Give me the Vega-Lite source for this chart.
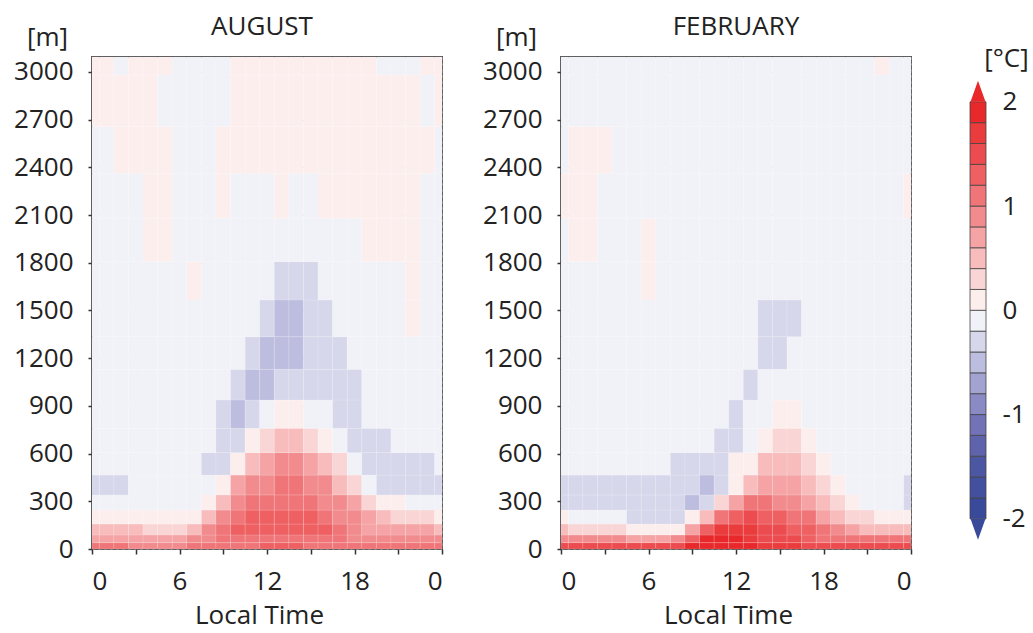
{
"$schema":"https://vega.github.io/schema/vega-lite/v6.json",
"autosize":{"type":"pad"},
"padding":{"left":12,"top":13,"right":5,"bottom":5},
"background":"white",
"config":{
 "font":"Open Sans",
 "view":{"stroke":"#555","strokeWidth":2},
 "axis":{"labelFont":"Open Sans","labelFontSize":26,"labelColor":"#222","titleFont":"Open Sans","titleFontSize":26,"titleFontWeight":"normal","titleColor":"#222","tickColor":"#333","tickWidth":1.5,"domain":false,"gridColor":"#999","gridDash":[2,4],"gridOpacity":0.6,"zindex":1},
 "title":{"font":"Open Sans","fontSize":26,"fontWeight":"normal","color":"#222"}
},
"datasets":{
"levels":[{"k":0,"lo":0,"hi":40},{"k":1,"lo":40,"hi":88},{"k":2,"lo":88,"hi":157},{"k":3,"lo":157,"hi":245},{"k":4,"lo":245,"hi":340},{"k":5,"lo":340,"hi":465},{"k":6,"lo":465,"hi":606},{"k":7,"lo":606,"hi":759},{"k":8,"lo":759,"hi":937},{"k":9,"lo":937,"hi":1130},{"k":10,"lo":1130,"hi":1335},{"k":11,"lo":1335,"hi":1566},{"k":12,"lo":1566,"hi":1807},{"k":13,"lo":1807,"hi":2080},{"k":14,"lo":2080,"hi":2363},{"k":15,"lo":2363,"hi":2656},{"k":16,"lo":2656,"hi":2981},{"k":17,"lo":2981,"hi":3094}],
"hours":[{"h":0,"t0":0,"t1":0.5},{"h":1,"t0":0.5,"t1":1.5},{"h":2,"t0":1.5,"t1":2.5},{"h":3,"t0":2.5,"t1":3.5},{"h":4,"t0":3.5,"t1":4.5},{"h":5,"t0":4.5,"t1":5.5},{"h":6,"t0":5.5,"t1":6.5},{"h":7,"t0":6.5,"t1":7.5},{"h":8,"t0":7.5,"t1":8.5},{"h":9,"t0":8.5,"t1":9.5},{"h":10,"t0":9.5,"t1":10.5},{"h":11,"t0":10.5,"t1":11.5},{"h":12,"t0":11.5,"t1":12.5},{"h":13,"t0":12.5,"t1":13.5},{"h":14,"t0":13.5,"t1":14.5},{"h":15,"t0":14.5,"t1":15.5},{"h":16,"t0":15.5,"t1":16.5},{"h":17,"t0":16.5,"t1":17.5},{"h":18,"t0":17.5,"t1":18.5},{"h":19,"t0":18.5,"t1":19.5},{"h":20,"t0":19.5,"t1":20.5},{"h":21,"t0":20.5,"t1":21.5},{"h":22,"t0":21.5,"t1":22.5},{"h":23,"t0":22.5,"t1":23.5},{"h":24,"t0":23.5,"t1":24}],
"bins":[{"lo":-2,"hi":-1.8,"v":-1.9},{"lo":-1.8,"hi":-1.6,"v":-1.7},{"lo":-1.6,"hi":-1.4,"v":-1.5},{"lo":-1.4,"hi":-1.2,"v":-1.3},{"lo":-1.2,"hi":-1,"v":-1.1},{"lo":-1,"hi":-0.8,"v":-0.9},{"lo":-0.8,"hi":-0.6,"v":-0.7},{"lo":-0.6,"hi":-0.4,"v":-0.5},{"lo":-0.4,"hi":-0.2,"v":-0.3},{"lo":-0.2,"hi":0,"v":-0.1},{"lo":0,"hi":0.2,"v":0.1},{"lo":0.2,"hi":0.4,"v":0.3},{"lo":0.4,"hi":0.6,"v":0.5},{"lo":0.6,"hi":0.8,"v":0.7},{"lo":0.8,"hi":1,"v":0.9},{"lo":1,"hi":1.2,"v":1.1},{"lo":1.2,"hi":1.4,"v":1.3},{"lo":1.4,"hi":1.6,"v":1.5},{"lo":1.6,"hi":1.8,"v":1.7},{"lo":1.8,"hi":2,"v":1.9}],
"ends":[{"y":2,"c":1.9,"end":"top"},{"y":-2,"c":-1.9,"end":"bottom"}],
"aug":[
{"k":0,"h":0,"v":1.1},{"k":0,"h":1,"v":1.1},{"k":0,"h":2,"v":1.1},{"k":0,"h":3,"v":0.9},{"k":0,"h":4,"v":0.9},{"k":0,"h":5,"v":0.9},{"k":0,"h":6,"v":0.9},{"k":0,"h":7,"v":1.1},{"k":0,"h":8,"v":1.1},{"k":0,"h":9,"v":1.1},{"k":0,"h":10,"v":1.1},{"k":0,"h":11,"v":1.1},{"k":0,"h":12,"v":1.3},{"k":0,"h":13,"v":1.3},{"k":0,"h":14,"v":1.3},{"k":0,"h":15,"v":1.1},{"k":0,"h":16,"v":1.1},{"k":0,"h":17,"v":1.1},{"k":0,"h":18,"v":1.1},{"k":0,"h":19,"v":1.1},{"k":0,"h":20,"v":1.1},{"k":0,"h":21,"v":1.1},{"k":0,"h":22,"v":1.1},{"k":0,"h":23,"v":1.1},{"k":0,"h":24,"v":1.1},
{"k":1,"h":0,"v":0.7},{"k":1,"h":1,"v":0.7},{"k":1,"h":2,"v":0.7},{"k":1,"h":3,"v":0.7},{"k":1,"h":4,"v":0.7},{"k":1,"h":5,"v":0.7},{"k":1,"h":6,"v":0.7},{"k":1,"h":7,"v":0.9},{"k":1,"h":8,"v":0.9},{"k":1,"h":9,"v":1.1},{"k":1,"h":10,"v":1.1},{"k":1,"h":11,"v":1.1},{"k":1,"h":12,"v":1.1},{"k":1,"h":13,"v":1.1},{"k":1,"h":14,"v":1.1},{"k":1,"h":15,"v":1.1},{"k":1,"h":16,"v":1.1},{"k":1,"h":17,"v":1.1},{"k":1,"h":18,"v":0.9},{"k":1,"h":19,"v":0.9},{"k":1,"h":20,"v":0.9},{"k":1,"h":21,"v":0.9},{"k":1,"h":22,"v":0.9},{"k":1,"h":23,"v":0.9},{"k":1,"h":24,"v":0.9},
{"k":2,"h":0,"v":0.5},{"k":2,"h":1,"v":0.5},{"k":2,"h":2,"v":0.5},{"k":2,"h":3,"v":0.5},{"k":2,"h":4,"v":0.3},{"k":2,"h":5,"v":0.3},{"k":2,"h":6,"v":0.3},{"k":2,"h":7,"v":0.5},{"k":2,"h":8,"v":0.9},{"k":2,"h":9,"v":1.1},{"k":2,"h":10,"v":1.3},{"k":2,"h":11,"v":1.3},{"k":2,"h":12,"v":1.3},{"k":2,"h":13,"v":1.3},{"k":2,"h":14,"v":1.3},{"k":2,"h":15,"v":1.3},{"k":2,"h":16,"v":1.3},{"k":2,"h":17,"v":1.1},{"k":2,"h":18,"v":0.9},{"k":2,"h":19,"v":0.7},{"k":2,"h":20,"v":0.7},{"k":2,"h":21,"v":0.7},{"k":2,"h":22,"v":0.7},{"k":2,"h":23,"v":0.7},{"k":2,"h":24,"v":0.5},
{"k":3,"h":0,"v":0.1},{"k":3,"h":1,"v":0.1},{"k":3,"h":2,"v":0.1},{"k":3,"h":3,"v":0.1},{"k":3,"h":4,"v":0.1},{"k":3,"h":5,"v":0.1},{"k":3,"h":6,"v":0.1},{"k":3,"h":7,"v":0.1},{"k":3,"h":8,"v":0.5},{"k":3,"h":9,"v":0.9},{"k":3,"h":10,"v":1.1},{"k":3,"h":11,"v":1.3},{"k":3,"h":12,"v":1.3},{"k":3,"h":13,"v":1.3},{"k":3,"h":14,"v":1.3},{"k":3,"h":15,"v":1.3},{"k":3,"h":16,"v":1.1},{"k":3,"h":17,"v":0.9},{"k":3,"h":18,"v":0.9},{"k":3,"h":19,"v":0.7},{"k":3,"h":20,"v":0.5},{"k":3,"h":21,"v":0.3},{"k":3,"h":22,"v":0.3},{"k":3,"h":23,"v":0.3},{"k":3,"h":24,"v":0.1},
{"k":4,"h":0,"v":-0.1},{"k":4,"h":1,"v":-0.1},{"k":4,"h":2,"v":-0.1},{"k":4,"h":3,"v":-0.1},{"k":4,"h":4,"v":-0.1},{"k":4,"h":5,"v":-0.1},{"k":4,"h":6,"v":-0.1},{"k":4,"h":7,"v":-0.1},{"k":4,"h":8,"v":0.1},{"k":4,"h":9,"v":0.5},{"k":4,"h":10,"v":0.9},{"k":4,"h":11,"v":1.1},{"k":4,"h":12,"v":1.1},{"k":4,"h":13,"v":1.1},{"k":4,"h":14,"v":1.1},{"k":4,"h":15,"v":1.1},{"k":4,"h":16,"v":0.9},{"k":4,"h":17,"v":0.9},{"k":4,"h":18,"v":0.7},{"k":4,"h":19,"v":0.3},{"k":4,"h":20,"v":0.1},{"k":4,"h":21,"v":0.1},{"k":4,"h":22,"v":-0.1},{"k":4,"h":23,"v":-0.1},{"k":4,"h":24,"v":-0.1},
{"k":5,"h":0,"v":-0.3},{"k":5,"h":1,"v":-0.3},{"k":5,"h":2,"v":-0.3},{"k":5,"h":3,"v":-0.1},{"k":5,"h":4,"v":-0.1},{"k":5,"h":5,"v":-0.1},{"k":5,"h":6,"v":-0.1},{"k":5,"h":7,"v":-0.1},{"k":5,"h":8,"v":-0.1},{"k":5,"h":9,"v":0.1},{"k":5,"h":10,"v":0.7},{"k":5,"h":11,"v":0.9},{"k":5,"h":12,"v":0.9},{"k":5,"h":13,"v":1.1},{"k":5,"h":14,"v":1.1},{"k":5,"h":15,"v":0.9},{"k":5,"h":16,"v":0.9},{"k":5,"h":17,"v":0.5},{"k":5,"h":18,"v":0.3},{"k":5,"h":19,"v":-0.1},{"k":5,"h":20,"v":-0.3},{"k":5,"h":21,"v":-0.3},{"k":5,"h":22,"v":-0.3},{"k":5,"h":23,"v":-0.3},{"k":5,"h":24,"v":-0.3},
{"k":6,"h":0,"v":-0.1},{"k":6,"h":1,"v":-0.1},{"k":6,"h":2,"v":-0.1},{"k":6,"h":3,"v":-0.1},{"k":6,"h":4,"v":-0.1},{"k":6,"h":5,"v":-0.1},{"k":6,"h":6,"v":-0.1},{"k":6,"h":7,"v":-0.1},{"k":6,"h":8,"v":-0.3},{"k":6,"h":9,"v":-0.3},{"k":6,"h":10,"v":0.1},{"k":6,"h":11,"v":0.5},{"k":6,"h":12,"v":0.7},{"k":6,"h":13,"v":0.9},{"k":6,"h":14,"v":0.9},{"k":6,"h":15,"v":0.7},{"k":6,"h":16,"v":0.5},{"k":6,"h":17,"v":0.3},{"k":6,"h":18,"v":-0.1},{"k":6,"h":19,"v":-0.3},{"k":6,"h":20,"v":-0.3},{"k":6,"h":21,"v":-0.3},{"k":6,"h":22,"v":-0.3},{"k":6,"h":23,"v":-0.3},{"k":6,"h":24,"v":-0.1},
{"k":7,"h":0,"v":-0.1},{"k":7,"h":1,"v":-0.1},{"k":7,"h":2,"v":-0.1},{"k":7,"h":3,"v":-0.1},{"k":7,"h":4,"v":-0.1},{"k":7,"h":5,"v":-0.1},{"k":7,"h":6,"v":-0.1},{"k":7,"h":7,"v":-0.1},{"k":7,"h":8,"v":-0.1},{"k":7,"h":9,"v":-0.3},{"k":7,"h":10,"v":-0.3},{"k":7,"h":11,"v":0.1},{"k":7,"h":12,"v":0.3},{"k":7,"h":13,"v":0.5},{"k":7,"h":14,"v":0.5},{"k":7,"h":15,"v":0.3},{"k":7,"h":16,"v":0.1},{"k":7,"h":17,"v":-0.1},{"k":7,"h":18,"v":-0.3},{"k":7,"h":19,"v":-0.3},{"k":7,"h":20,"v":-0.3},{"k":7,"h":21,"v":-0.1},{"k":7,"h":22,"v":-0.1},{"k":7,"h":23,"v":-0.1},{"k":7,"h":24,"v":-0.1},
{"k":8,"h":0,"v":-0.1},{"k":8,"h":1,"v":-0.1},{"k":8,"h":2,"v":-0.1},{"k":8,"h":3,"v":-0.1},{"k":8,"h":4,"v":-0.1},{"k":8,"h":5,"v":-0.1},{"k":8,"h":6,"v":-0.1},{"k":8,"h":7,"v":-0.1},{"k":8,"h":8,"v":-0.1},{"k":8,"h":9,"v":-0.3},{"k":8,"h":10,"v":-0.5},{"k":8,"h":11,"v":-0.3},{"k":8,"h":12,"v":-0.1},{"k":8,"h":13,"v":0.1},{"k":8,"h":14,"v":0.1},{"k":8,"h":15,"v":-0.1},{"k":8,"h":16,"v":-0.1},{"k":8,"h":17,"v":-0.3},{"k":8,"h":18,"v":-0.3},{"k":8,"h":19,"v":-0.1},{"k":8,"h":20,"v":-0.1},{"k":8,"h":21,"v":-0.1},{"k":8,"h":22,"v":-0.1},{"k":8,"h":23,"v":-0.1},{"k":8,"h":24,"v":-0.1},
{"k":9,"h":0,"v":-0.1},{"k":9,"h":1,"v":-0.1},{"k":9,"h":2,"v":-0.1},{"k":9,"h":3,"v":-0.1},{"k":9,"h":4,"v":-0.1},{"k":9,"h":5,"v":-0.1},{"k":9,"h":6,"v":-0.1},{"k":9,"h":7,"v":-0.1},{"k":9,"h":8,"v":-0.1},{"k":9,"h":9,"v":-0.1},{"k":9,"h":10,"v":-0.3},{"k":9,"h":11,"v":-0.5},{"k":9,"h":12,"v":-0.5},{"k":9,"h":13,"v":-0.3},{"k":9,"h":14,"v":-0.3},{"k":9,"h":15,"v":-0.3},{"k":9,"h":16,"v":-0.3},{"k":9,"h":17,"v":-0.3},{"k":9,"h":18,"v":-0.3},{"k":9,"h":19,"v":-0.1},{"k":9,"h":20,"v":-0.1},{"k":9,"h":21,"v":-0.1},{"k":9,"h":22,"v":-0.1},{"k":9,"h":23,"v":-0.1},{"k":9,"h":24,"v":-0.1},
{"k":10,"h":0,"v":-0.1},{"k":10,"h":1,"v":-0.1},{"k":10,"h":2,"v":-0.1},{"k":10,"h":3,"v":-0.1},{"k":10,"h":4,"v":-0.1},{"k":10,"h":5,"v":-0.1},{"k":10,"h":6,"v":-0.1},{"k":10,"h":7,"v":-0.1},{"k":10,"h":8,"v":-0.1},{"k":10,"h":9,"v":-0.1},{"k":10,"h":10,"v":-0.1},{"k":10,"h":11,"v":-0.3},{"k":10,"h":12,"v":-0.5},{"k":10,"h":13,"v":-0.5},{"k":10,"h":14,"v":-0.5},{"k":10,"h":15,"v":-0.3},{"k":10,"h":16,"v":-0.3},{"k":10,"h":17,"v":-0.3},{"k":10,"h":18,"v":-0.1},{"k":10,"h":19,"v":-0.1},{"k":10,"h":20,"v":-0.1},{"k":10,"h":21,"v":-0.1},{"k":10,"h":22,"v":-0.1},{"k":10,"h":23,"v":-0.1},{"k":10,"h":24,"v":-0.1},
{"k":11,"h":0,"v":-0.1},{"k":11,"h":1,"v":-0.1},{"k":11,"h":2,"v":-0.1},{"k":11,"h":3,"v":-0.1},{"k":11,"h":4,"v":-0.1},{"k":11,"h":5,"v":-0.1},{"k":11,"h":6,"v":-0.1},{"k":11,"h":7,"v":-0.1},{"k":11,"h":8,"v":-0.1},{"k":11,"h":9,"v":-0.1},{"k":11,"h":10,"v":-0.1},{"k":11,"h":11,"v":-0.1},{"k":11,"h":12,"v":-0.3},{"k":11,"h":13,"v":-0.5},{"k":11,"h":14,"v":-0.5},{"k":11,"h":15,"v":-0.3},{"k":11,"h":16,"v":-0.3},{"k":11,"h":17,"v":-0.1},{"k":11,"h":18,"v":-0.1},{"k":11,"h":19,"v":-0.1},{"k":11,"h":20,"v":-0.1},{"k":11,"h":21,"v":-0.1},{"k":11,"h":22,"v":0.1},{"k":11,"h":23,"v":-0.1},{"k":11,"h":24,"v":-0.1},
{"k":12,"h":0,"v":-0.1},{"k":12,"h":1,"v":-0.1},{"k":12,"h":2,"v":-0.1},{"k":12,"h":3,"v":-0.1},{"k":12,"h":4,"v":-0.1},{"k":12,"h":5,"v":-0.1},{"k":12,"h":6,"v":-0.1},{"k":12,"h":7,"v":0.1},{"k":12,"h":8,"v":-0.1},{"k":12,"h":9,"v":-0.1},{"k":12,"h":10,"v":-0.1},{"k":12,"h":11,"v":-0.1},{"k":12,"h":12,"v":-0.1},{"k":12,"h":13,"v":-0.3},{"k":12,"h":14,"v":-0.3},{"k":12,"h":15,"v":-0.3},{"k":12,"h":16,"v":-0.1},{"k":12,"h":17,"v":-0.1},{"k":12,"h":18,"v":-0.1},{"k":12,"h":19,"v":-0.1},{"k":12,"h":20,"v":-0.1},{"k":12,"h":21,"v":-0.1},{"k":12,"h":22,"v":0.1},{"k":12,"h":23,"v":-0.1},{"k":12,"h":24,"v":-0.1},
{"k":13,"h":0,"v":-0.1},{"k":13,"h":1,"v":-0.1},{"k":13,"h":2,"v":-0.1},{"k":13,"h":3,"v":-0.1},{"k":13,"h":4,"v":0.1},{"k":13,"h":5,"v":0.1},{"k":13,"h":6,"v":-0.1},{"k":13,"h":7,"v":-0.1},{"k":13,"h":8,"v":-0.1},{"k":13,"h":9,"v":-0.1},{"k":13,"h":10,"v":-0.1},{"k":13,"h":11,"v":-0.1},{"k":13,"h":12,"v":-0.1},{"k":13,"h":13,"v":-0.1},{"k":13,"h":14,"v":-0.1},{"k":13,"h":15,"v":-0.1},{"k":13,"h":16,"v":-0.1},{"k":13,"h":17,"v":-0.1},{"k":13,"h":18,"v":-0.1},{"k":13,"h":19,"v":0.1},{"k":13,"h":20,"v":0.1},{"k":13,"h":21,"v":0.1},{"k":13,"h":22,"v":0.1},{"k":13,"h":23,"v":-0.1},{"k":13,"h":24,"v":-0.1},
{"k":14,"h":0,"v":-0.1},{"k":14,"h":1,"v":-0.1},{"k":14,"h":2,"v":-0.1},{"k":14,"h":3,"v":-0.1},{"k":14,"h":4,"v":0.1},{"k":14,"h":5,"v":0.1},{"k":14,"h":6,"v":-0.1},{"k":14,"h":7,"v":-0.1},{"k":14,"h":8,"v":-0.1},{"k":14,"h":9,"v":0.1},{"k":14,"h":10,"v":-0.1},{"k":14,"h":11,"v":-0.1},{"k":14,"h":12,"v":-0.1},{"k":14,"h":13,"v":0.1},{"k":14,"h":14,"v":-0.1},{"k":14,"h":15,"v":-0.1},{"k":14,"h":16,"v":0.1},{"k":14,"h":17,"v":0.1},{"k":14,"h":18,"v":0.1},{"k":14,"h":19,"v":0.1},{"k":14,"h":20,"v":0.1},{"k":14,"h":21,"v":0.1},{"k":14,"h":22,"v":0.1},{"k":14,"h":23,"v":-0.1},{"k":14,"h":24,"v":-0.1},
{"k":15,"h":0,"v":-0.1},{"k":15,"h":1,"v":-0.1},{"k":15,"h":2,"v":0.1},{"k":15,"h":3,"v":0.1},{"k":15,"h":4,"v":0.1},{"k":15,"h":5,"v":0.1},{"k":15,"h":6,"v":-0.1},{"k":15,"h":7,"v":-0.1},{"k":15,"h":8,"v":-0.1},{"k":15,"h":9,"v":0.1},{"k":15,"h":10,"v":0.1},{"k":15,"h":11,"v":0.1},{"k":15,"h":12,"v":0.1},{"k":15,"h":13,"v":0.1},{"k":15,"h":14,"v":0.1},{"k":15,"h":15,"v":0.1},{"k":15,"h":16,"v":0.1},{"k":15,"h":17,"v":0.1},{"k":15,"h":18,"v":0.1},{"k":15,"h":19,"v":0.1},{"k":15,"h":20,"v":0.1},{"k":15,"h":21,"v":0.1},{"k":15,"h":22,"v":0.1},{"k":15,"h":23,"v":0.1},{"k":15,"h":24,"v":-0.1},
{"k":16,"h":0,"v":0.1},{"k":16,"h":1,"v":0.1},{"k":16,"h":2,"v":0.1},{"k":16,"h":3,"v":0.1},{"k":16,"h":4,"v":0.1},{"k":16,"h":5,"v":-0.1},{"k":16,"h":6,"v":-0.1},{"k":16,"h":7,"v":-0.1},{"k":16,"h":8,"v":-0.1},{"k":16,"h":9,"v":-0.1},{"k":16,"h":10,"v":0.1},{"k":16,"h":11,"v":0.1},{"k":16,"h":12,"v":0.1},{"k":16,"h":13,"v":0.1},{"k":16,"h":14,"v":0.1},{"k":16,"h":15,"v":0.1},{"k":16,"h":16,"v":0.1},{"k":16,"h":17,"v":0.1},{"k":16,"h":18,"v":0.1},{"k":16,"h":19,"v":0.1},{"k":16,"h":20,"v":0.1},{"k":16,"h":21,"v":0.1},{"k":16,"h":22,"v":0.1},{"k":16,"h":23,"v":-0.1},{"k":16,"h":24,"v":0.1},
{"k":17,"h":0,"v":0.1},{"k":17,"h":1,"v":0.1},{"k":17,"h":2,"v":-0.1},{"k":17,"h":3,"v":0.1},{"k":17,"h":4,"v":0.1},{"k":17,"h":5,"v":0.1},{"k":17,"h":6,"v":-0.1},{"k":17,"h":7,"v":-0.1},{"k":17,"h":8,"v":-0.1},{"k":17,"h":9,"v":-0.1},{"k":17,"h":10,"v":0.1},{"k":17,"h":11,"v":0.1},{"k":17,"h":12,"v":0.1},{"k":17,"h":13,"v":0.1},{"k":17,"h":14,"v":0.1},{"k":17,"h":15,"v":0.1},{"k":17,"h":16,"v":0.1},{"k":17,"h":17,"v":0.1},{"k":17,"h":18,"v":0.1},{"k":17,"h":19,"v":0.1},{"k":17,"h":20,"v":-0.1},{"k":17,"h":21,"v":-0.1},{"k":17,"h":22,"v":-0.1},{"k":17,"h":23,"v":0.1},{"k":17,"h":24,"v":0.1}
],
"feb":[
{"k":0,"h":0,"v":1.5},{"k":0,"h":1,"v":1.5},{"k":0,"h":2,"v":1.5},{"k":0,"h":3,"v":1.5},{"k":0,"h":4,"v":1.5},{"k":0,"h":5,"v":1.5},{"k":0,"h":6,"v":1.5},{"k":0,"h":7,"v":1.5},{"k":0,"h":8,"v":1.5},{"k":0,"h":9,"v":1.9},{"k":0,"h":10,"v":1.9},{"k":0,"h":11,"v":1.9},{"k":0,"h":12,"v":1.9},{"k":0,"h":13,"v":1.9},{"k":0,"h":14,"v":1.7},{"k":0,"h":15,"v":1.7},{"k":0,"h":16,"v":1.7},{"k":0,"h":17,"v":1.5},{"k":0,"h":18,"v":1.5},{"k":0,"h":19,"v":1.5},{"k":0,"h":20,"v":1.5},{"k":0,"h":21,"v":1.5},{"k":0,"h":22,"v":1.5},{"k":0,"h":23,"v":1.5},{"k":0,"h":24,"v":1.5},
{"k":1,"h":0,"v":0.9},{"k":1,"h":1,"v":0.9},{"k":1,"h":2,"v":0.9},{"k":1,"h":3,"v":0.9},{"k":1,"h":4,"v":0.9},{"k":1,"h":5,"v":0.7},{"k":1,"h":6,"v":0.7},{"k":1,"h":7,"v":0.7},{"k":1,"h":8,"v":0.9},{"k":1,"h":9,"v":1.3},{"k":1,"h":10,"v":1.9},{"k":1,"h":11,"v":1.9},{"k":1,"h":12,"v":1.9},{"k":1,"h":13,"v":1.7},{"k":1,"h":14,"v":1.5},{"k":1,"h":15,"v":1.5},{"k":1,"h":16,"v":1.5},{"k":1,"h":17,"v":1.3},{"k":1,"h":18,"v":1.1},{"k":1,"h":19,"v":1.1},{"k":1,"h":20,"v":1.1},{"k":1,"h":21,"v":1.1},{"k":1,"h":22,"v":1.1},{"k":1,"h":23,"v":1.1},{"k":1,"h":24,"v":1.1},
{"k":2,"h":0,"v":0.5},{"k":2,"h":1,"v":0.3},{"k":2,"h":2,"v":0.3},{"k":2,"h":3,"v":0.3},{"k":2,"h":4,"v":0.3},{"k":2,"h":5,"v":0.1},{"k":2,"h":6,"v":0.1},{"k":2,"h":7,"v":0.1},{"k":2,"h":8,"v":0.1},{"k":2,"h":9,"v":0.7},{"k":2,"h":10,"v":1.3},{"k":2,"h":11,"v":1.7},{"k":2,"h":12,"v":1.7},{"k":2,"h":13,"v":1.7},{"k":2,"h":14,"v":1.5},{"k":2,"h":15,"v":1.5},{"k":2,"h":16,"v":1.3},{"k":2,"h":17,"v":1.3},{"k":2,"h":18,"v":1.1},{"k":2,"h":19,"v":0.9},{"k":2,"h":20,"v":0.7},{"k":2,"h":21,"v":0.5},{"k":2,"h":22,"v":0.5},{"k":2,"h":23,"v":0.5},{"k":2,"h":24,"v":0.5},
{"k":3,"h":0,"v":0.1},{"k":3,"h":1,"v":-0.1},{"k":3,"h":2,"v":-0.1},{"k":3,"h":3,"v":-0.1},{"k":3,"h":4,"v":-0.1},{"k":3,"h":5,"v":-0.3},{"k":3,"h":6,"v":-0.3},{"k":3,"h":7,"v":-0.3},{"k":3,"h":8,"v":-0.3},{"k":3,"h":9,"v":0.1},{"k":3,"h":10,"v":0.5},{"k":3,"h":11,"v":1.1},{"k":3,"h":12,"v":1.3},{"k":3,"h":13,"v":1.5},{"k":3,"h":14,"v":1.3},{"k":3,"h":15,"v":1.3},{"k":3,"h":16,"v":1.1},{"k":3,"h":17,"v":1.1},{"k":3,"h":18,"v":0.7},{"k":3,"h":19,"v":0.5},{"k":3,"h":20,"v":0.3},{"k":3,"h":21,"v":0.3},{"k":3,"h":22,"v":0.1},{"k":3,"h":23,"v":0.1},{"k":3,"h":24,"v":0.1},
{"k":4,"h":0,"v":-0.3},{"k":4,"h":1,"v":-0.3},{"k":4,"h":2,"v":-0.3},{"k":4,"h":3,"v":-0.3},{"k":4,"h":4,"v":-0.3},{"k":4,"h":5,"v":-0.3},{"k":4,"h":6,"v":-0.3},{"k":4,"h":7,"v":-0.3},{"k":4,"h":8,"v":-0.3},{"k":4,"h":9,"v":-0.5},{"k":4,"h":10,"v":-0.3},{"k":4,"h":11,"v":0.3},{"k":4,"h":12,"v":0.7},{"k":4,"h":13,"v":1.1},{"k":4,"h":14,"v":1.1},{"k":4,"h":15,"v":0.9},{"k":4,"h":16,"v":0.9},{"k":4,"h":17,"v":0.7},{"k":4,"h":18,"v":0.5},{"k":4,"h":19,"v":0.3},{"k":4,"h":20,"v":0.1},{"k":4,"h":21,"v":-0.1},{"k":4,"h":22,"v":-0.1},{"k":4,"h":23,"v":-0.1},{"k":4,"h":24,"v":-0.3},
{"k":5,"h":0,"v":-0.3},{"k":5,"h":1,"v":-0.3},{"k":5,"h":2,"v":-0.3},{"k":5,"h":3,"v":-0.3},{"k":5,"h":4,"v":-0.3},{"k":5,"h":5,"v":-0.3},{"k":5,"h":6,"v":-0.3},{"k":5,"h":7,"v":-0.3},{"k":5,"h":8,"v":-0.3},{"k":5,"h":9,"v":-0.3},{"k":5,"h":10,"v":-0.5},{"k":5,"h":11,"v":-0.3},{"k":5,"h":12,"v":0.1},{"k":5,"h":13,"v":0.5},{"k":5,"h":14,"v":0.7},{"k":5,"h":15,"v":0.7},{"k":5,"h":16,"v":0.7},{"k":5,"h":17,"v":0.5},{"k":5,"h":18,"v":0.3},{"k":5,"h":19,"v":0.1},{"k":5,"h":20,"v":-0.1},{"k":5,"h":21,"v":-0.1},{"k":5,"h":22,"v":-0.1},{"k":5,"h":23,"v":-0.1},{"k":5,"h":24,"v":-0.3},
{"k":6,"h":0,"v":-0.1},{"k":6,"h":1,"v":-0.1},{"k":6,"h":2,"v":-0.1},{"k":6,"h":3,"v":-0.1},{"k":6,"h":4,"v":-0.1},{"k":6,"h":5,"v":-0.1},{"k":6,"h":6,"v":-0.1},{"k":6,"h":7,"v":-0.1},{"k":6,"h":8,"v":-0.3},{"k":6,"h":9,"v":-0.3},{"k":6,"h":10,"v":-0.3},{"k":6,"h":11,"v":-0.3},{"k":6,"h":12,"v":0.1},{"k":6,"h":13,"v":0.1},{"k":6,"h":14,"v":0.5},{"k":6,"h":15,"v":0.5},{"k":6,"h":16,"v":0.5},{"k":6,"h":17,"v":0.3},{"k":6,"h":18,"v":0.1},{"k":6,"h":19,"v":-0.1},{"k":6,"h":20,"v":-0.1},{"k":6,"h":21,"v":-0.1},{"k":6,"h":22,"v":-0.1},{"k":6,"h":23,"v":-0.1},{"k":6,"h":24,"v":-0.1},
{"k":7,"h":0,"v":-0.1},{"k":7,"h":1,"v":-0.1},{"k":7,"h":2,"v":-0.1},{"k":7,"h":3,"v":-0.1},{"k":7,"h":4,"v":-0.1},{"k":7,"h":5,"v":-0.1},{"k":7,"h":6,"v":-0.1},{"k":7,"h":7,"v":-0.1},{"k":7,"h":8,"v":-0.1},{"k":7,"h":9,"v":-0.1},{"k":7,"h":10,"v":-0.1},{"k":7,"h":11,"v":-0.3},{"k":7,"h":12,"v":-0.3},{"k":7,"h":13,"v":-0.1},{"k":7,"h":14,"v":0.1},{"k":7,"h":15,"v":0.3},{"k":7,"h":16,"v":0.3},{"k":7,"h":17,"v":0.1},{"k":7,"h":18,"v":-0.1},{"k":7,"h":19,"v":-0.1},{"k":7,"h":20,"v":-0.1},{"k":7,"h":21,"v":-0.1},{"k":7,"h":22,"v":-0.1},{"k":7,"h":23,"v":-0.1},{"k":7,"h":24,"v":-0.1},
{"k":8,"h":0,"v":-0.1},{"k":8,"h":1,"v":-0.1},{"k":8,"h":2,"v":-0.1},{"k":8,"h":3,"v":-0.1},{"k":8,"h":4,"v":-0.1},{"k":8,"h":5,"v":-0.1},{"k":8,"h":6,"v":-0.1},{"k":8,"h":7,"v":-0.1},{"k":8,"h":8,"v":-0.1},{"k":8,"h":9,"v":-0.1},{"k":8,"h":10,"v":-0.1},{"k":8,"h":11,"v":-0.1},{"k":8,"h":12,"v":-0.3},{"k":8,"h":13,"v":-0.1},{"k":8,"h":14,"v":-0.1},{"k":8,"h":15,"v":0.1},{"k":8,"h":16,"v":0.1},{"k":8,"h":17,"v":-0.1},{"k":8,"h":18,"v":-0.1},{"k":8,"h":19,"v":-0.1},{"k":8,"h":20,"v":-0.1},{"k":8,"h":21,"v":-0.1},{"k":8,"h":22,"v":-0.1},{"k":8,"h":23,"v":-0.1},{"k":8,"h":24,"v":-0.1},
{"k":9,"h":0,"v":-0.1},{"k":9,"h":1,"v":-0.1},{"k":9,"h":2,"v":-0.1},{"k":9,"h":3,"v":-0.1},{"k":9,"h":4,"v":-0.1},{"k":9,"h":5,"v":-0.1},{"k":9,"h":6,"v":-0.1},{"k":9,"h":7,"v":-0.1},{"k":9,"h":8,"v":-0.1},{"k":9,"h":9,"v":-0.1},{"k":9,"h":10,"v":-0.1},{"k":9,"h":11,"v":-0.1},{"k":9,"h":12,"v":-0.1},{"k":9,"h":13,"v":-0.3},{"k":9,"h":14,"v":-0.1},{"k":9,"h":15,"v":-0.1},{"k":9,"h":16,"v":-0.1},{"k":9,"h":17,"v":-0.1},{"k":9,"h":18,"v":-0.1},{"k":9,"h":19,"v":-0.1},{"k":9,"h":20,"v":-0.1},{"k":9,"h":21,"v":-0.1},{"k":9,"h":22,"v":-0.1},{"k":9,"h":23,"v":-0.1},{"k":9,"h":24,"v":-0.1},
{"k":10,"h":0,"v":-0.1},{"k":10,"h":1,"v":-0.1},{"k":10,"h":2,"v":-0.1},{"k":10,"h":3,"v":-0.1},{"k":10,"h":4,"v":-0.1},{"k":10,"h":5,"v":-0.1},{"k":10,"h":6,"v":-0.1},{"k":10,"h":7,"v":-0.1},{"k":10,"h":8,"v":-0.1},{"k":10,"h":9,"v":-0.1},{"k":10,"h":10,"v":-0.1},{"k":10,"h":11,"v":-0.1},{"k":10,"h":12,"v":-0.1},{"k":10,"h":13,"v":-0.1},{"k":10,"h":14,"v":-0.3},{"k":10,"h":15,"v":-0.3},{"k":10,"h":16,"v":-0.1},{"k":10,"h":17,"v":-0.1},{"k":10,"h":18,"v":-0.1},{"k":10,"h":19,"v":-0.1},{"k":10,"h":20,"v":-0.1},{"k":10,"h":21,"v":-0.1},{"k":10,"h":22,"v":-0.1},{"k":10,"h":23,"v":-0.1},{"k":10,"h":24,"v":-0.1},
{"k":11,"h":0,"v":-0.1},{"k":11,"h":1,"v":-0.1},{"k":11,"h":2,"v":-0.1},{"k":11,"h":3,"v":-0.1},{"k":11,"h":4,"v":-0.1},{"k":11,"h":5,"v":-0.1},{"k":11,"h":6,"v":-0.1},{"k":11,"h":7,"v":-0.1},{"k":11,"h":8,"v":-0.1},{"k":11,"h":9,"v":-0.1},{"k":11,"h":10,"v":-0.1},{"k":11,"h":11,"v":-0.1},{"k":11,"h":12,"v":-0.1},{"k":11,"h":13,"v":-0.1},{"k":11,"h":14,"v":-0.3},{"k":11,"h":15,"v":-0.3},{"k":11,"h":16,"v":-0.3},{"k":11,"h":17,"v":-0.1},{"k":11,"h":18,"v":-0.1},{"k":11,"h":19,"v":-0.1},{"k":11,"h":20,"v":-0.1},{"k":11,"h":21,"v":-0.1},{"k":11,"h":22,"v":-0.1},{"k":11,"h":23,"v":-0.1},{"k":11,"h":24,"v":-0.1},
{"k":12,"h":0,"v":-0.1},{"k":12,"h":1,"v":-0.1},{"k":12,"h":2,"v":-0.1},{"k":12,"h":3,"v":-0.1},{"k":12,"h":4,"v":-0.1},{"k":12,"h":5,"v":-0.1},{"k":12,"h":6,"v":0.1},{"k":12,"h":7,"v":-0.1},{"k":12,"h":8,"v":-0.1},{"k":12,"h":9,"v":-0.1},{"k":12,"h":10,"v":-0.1},{"k":12,"h":11,"v":-0.1},{"k":12,"h":12,"v":-0.1},{"k":12,"h":13,"v":-0.1},{"k":12,"h":14,"v":-0.1},{"k":12,"h":15,"v":-0.1},{"k":12,"h":16,"v":-0.1},{"k":12,"h":17,"v":-0.1},{"k":12,"h":18,"v":-0.1},{"k":12,"h":19,"v":-0.1},{"k":12,"h":20,"v":-0.1},{"k":12,"h":21,"v":-0.1},{"k":12,"h":22,"v":-0.1},{"k":12,"h":23,"v":-0.1},{"k":12,"h":24,"v":-0.1},
{"k":13,"h":0,"v":-0.1},{"k":13,"h":1,"v":0.1},{"k":13,"h":2,"v":0.1},{"k":13,"h":3,"v":-0.1},{"k":13,"h":4,"v":-0.1},{"k":13,"h":5,"v":-0.1},{"k":13,"h":6,"v":0.1},{"k":13,"h":7,"v":-0.1},{"k":13,"h":8,"v":-0.1},{"k":13,"h":9,"v":-0.1},{"k":13,"h":10,"v":-0.1},{"k":13,"h":11,"v":-0.1},{"k":13,"h":12,"v":-0.1},{"k":13,"h":13,"v":-0.1},{"k":13,"h":14,"v":-0.1},{"k":13,"h":15,"v":-0.1},{"k":13,"h":16,"v":-0.1},{"k":13,"h":17,"v":-0.1},{"k":13,"h":18,"v":-0.1},{"k":13,"h":19,"v":-0.1},{"k":13,"h":20,"v":-0.1},{"k":13,"h":21,"v":-0.1},{"k":13,"h":22,"v":-0.1},{"k":13,"h":23,"v":-0.1},{"k":13,"h":24,"v":-0.1},
{"k":14,"h":0,"v":0.1},{"k":14,"h":1,"v":0.1},{"k":14,"h":2,"v":0.1},{"k":14,"h":3,"v":-0.1},{"k":14,"h":4,"v":-0.1},{"k":14,"h":5,"v":-0.1},{"k":14,"h":6,"v":-0.1},{"k":14,"h":7,"v":-0.1},{"k":14,"h":8,"v":-0.1},{"k":14,"h":9,"v":-0.1},{"k":14,"h":10,"v":-0.1},{"k":14,"h":11,"v":-0.1},{"k":14,"h":12,"v":-0.1},{"k":14,"h":13,"v":-0.1},{"k":14,"h":14,"v":-0.1},{"k":14,"h":15,"v":-0.1},{"k":14,"h":16,"v":-0.1},{"k":14,"h":17,"v":-0.1},{"k":14,"h":18,"v":-0.1},{"k":14,"h":19,"v":-0.1},{"k":14,"h":20,"v":-0.1},{"k":14,"h":21,"v":-0.1},{"k":14,"h":22,"v":-0.1},{"k":14,"h":23,"v":-0.1},{"k":14,"h":24,"v":0.1},
{"k":15,"h":0,"v":-0.1},{"k":15,"h":1,"v":0.1},{"k":15,"h":2,"v":0.1},{"k":15,"h":3,"v":0.1},{"k":15,"h":4,"v":-0.1},{"k":15,"h":5,"v":-0.1},{"k":15,"h":6,"v":-0.1},{"k":15,"h":7,"v":-0.1},{"k":15,"h":8,"v":-0.1},{"k":15,"h":9,"v":-0.1},{"k":15,"h":10,"v":-0.1},{"k":15,"h":11,"v":-0.1},{"k":15,"h":12,"v":-0.1},{"k":15,"h":13,"v":-0.1},{"k":15,"h":14,"v":-0.1},{"k":15,"h":15,"v":-0.1},{"k":15,"h":16,"v":-0.1},{"k":15,"h":17,"v":-0.1},{"k":15,"h":18,"v":-0.1},{"k":15,"h":19,"v":-0.1},{"k":15,"h":20,"v":-0.1},{"k":15,"h":21,"v":-0.1},{"k":15,"h":22,"v":-0.1},{"k":15,"h":23,"v":-0.1},{"k":15,"h":24,"v":-0.1},
{"k":16,"h":0,"v":-0.1},{"k":16,"h":1,"v":-0.1},{"k":16,"h":2,"v":-0.1},{"k":16,"h":3,"v":-0.1},{"k":16,"h":4,"v":-0.1},{"k":16,"h":5,"v":-0.1},{"k":16,"h":6,"v":-0.1},{"k":16,"h":7,"v":-0.1},{"k":16,"h":8,"v":-0.1},{"k":16,"h":9,"v":-0.1},{"k":16,"h":10,"v":-0.1},{"k":16,"h":11,"v":-0.1},{"k":16,"h":12,"v":-0.1},{"k":16,"h":13,"v":-0.1},{"k":16,"h":14,"v":-0.1},{"k":16,"h":15,"v":-0.1},{"k":16,"h":16,"v":-0.1},{"k":16,"h":17,"v":-0.1},{"k":16,"h":18,"v":-0.1},{"k":16,"h":19,"v":-0.1},{"k":16,"h":20,"v":-0.1},{"k":16,"h":21,"v":-0.1},{"k":16,"h":22,"v":-0.1},{"k":16,"h":23,"v":-0.1},{"k":16,"h":24,"v":-0.1},
{"k":17,"h":0,"v":-0.1},{"k":17,"h":1,"v":-0.1},{"k":17,"h":2,"v":-0.1},{"k":17,"h":3,"v":-0.1},{"k":17,"h":4,"v":-0.1},{"k":17,"h":5,"v":-0.1},{"k":17,"h":6,"v":-0.1},{"k":17,"h":7,"v":-0.1},{"k":17,"h":8,"v":-0.1},{"k":17,"h":9,"v":-0.1},{"k":17,"h":10,"v":-0.1},{"k":17,"h":11,"v":-0.1},{"k":17,"h":12,"v":-0.1},{"k":17,"h":13,"v":-0.1},{"k":17,"h":14,"v":-0.1},{"k":17,"h":15,"v":-0.1},{"k":17,"h":16,"v":-0.1},{"k":17,"h":17,"v":-0.1},{"k":17,"h":18,"v":-0.1},{"k":17,"h":19,"v":-0.1},{"k":17,"h":20,"v":-0.1},{"k":17,"h":21,"v":-0.1},{"k":17,"h":22,"v":0.1},{"k":17,"h":23,"v":-0.1},{"k":17,"h":24,"v":-0.1}
]
},
"spacing":56,
"hconcat":[
{
 "bounds":"flush",
 "spacing":119,
 "hconcat":[
  {
   "width":350,"height":492,
   "title":{"text":"AUGUST","frame":"group","baseline":"alphabetic","offset":-37,"dx":-5},
   "data":{"name":"aug"},
   "transform":[
    {"lookup":"k","from":{"data":{"name":"levels"},"key":"k","fields":["lo","hi"]}},
    {"lookup":"h","from":{"data":{"name":"hours"},"key":"h","fields":["t0","t1"]}}
   ],
   "mark":{"type":"rect","stroke":"#ffffff","strokeWidth":0.4,"strokeOpacity":0.35},
   "encoding":{
    "x":{"field":"t0","type":"quantitative","scale":{"domain":[0,24],"nice":false,"zero":false},
     "axis":{"values":[0,3,6,9,12,15,18,21,24],"labelExpr":"datum.value % 6 == 0 ? (datum.value == 24 ? '0' : datum.label) : ''","tickSize":5,"labelPadding":14,"grid":true,"title":"Local Time","titleX":167,"titleY":74,"titleAlign":"center","titleBaseline":"alphabetic"}},
    "x2":{"field":"t1"},
    "y":{"field":"lo","type":"quantitative","scale":{"domain":[0,3094],"nice":false,"zero":false},
     "axis":{"values":[0,300,600,900,1200,1500,1800,2100,2400,2700,3000],"format":"d","tickSize":4,"labelPadding":15,"grid":true,"title":"[m]","titleAngle":0,"titleX":-45,"titleY":-12,"titleAlign":"center","titleBaseline":"alphabetic"}},
    "y2":{"field":"hi"},
    "color":{"field":"v","type":"quantitative","legend":null,
     "scale":{"type":"threshold","domain":[-1.8,-1.6,-1.4,-1.2,-1,-0.8,-0.6,-0.4,-0.2,0,0.2,0.4,0.6,0.8,1,1.2,1.4,1.6,1.8],
      "range":["#3a4a9a","#42509f","#4c57a4","#5e63ab","#7272b6","#8a8ac4","#a3a3d2","#bdbddf","#d7d7ec","#f1f1f8","#fdeeee","#fad5d5","#f8bcbd","#f5a3a4","#f28b8d","#f07578","#ee6062","#ec4c4f","#ea3b3d","#e8282b"]}}
   }
  },
  {
   "width":350,"height":492,
   "title":{"text":"FEBRUARY","frame":"group","baseline":"alphabetic","offset":-37},
   "data":{"name":"feb"},
   "transform":[
    {"lookup":"k","from":{"data":{"name":"levels"},"key":"k","fields":["lo","hi"]}},
    {"lookup":"h","from":{"data":{"name":"hours"},"key":"h","fields":["t0","t1"]}}
   ],
   "mark":{"type":"rect","stroke":"#ffffff","strokeWidth":0.4,"strokeOpacity":0.35},
   "encoding":{
    "x":{"field":"t0","type":"quantitative","scale":{"domain":[0,24],"nice":false,"zero":false},
     "axis":{"values":[0,3,6,9,12,15,18,21,24],"labelExpr":"datum.value % 6 == 0 ? (datum.value == 24 ? '0' : datum.label) : ''","tickSize":5,"labelPadding":14,"grid":true,"title":"Local Time","titleX":167,"titleY":74,"titleAlign":"center","titleBaseline":"alphabetic"}},
    "x2":{"field":"t1"},
    "y":{"field":"lo","type":"quantitative","scale":{"domain":[0,3094],"nice":false,"zero":false},
     "axis":{"values":[0,300,600,900,1200,1500,1800,2100,2400,2700,3000],"format":"d","tickSize":4,"labelPadding":15,"grid":true,"title":"[m]","titleAngle":0,"titleX":-45,"titleY":-12,"titleAlign":"center","titleBaseline":"alphabetic"}},
    "y2":{"field":"hi"},
    "color":{"field":"v","type":"quantitative","legend":null,
     "scale":{"type":"threshold","domain":[-1.8,-1.6,-1.4,-1.2,-1,-0.8,-0.6,-0.4,-0.2,0,0.2,0.4,0.6,0.8,1,1.2,1.4,1.6,1.8],
      "range":["#3a4a9a","#42509f","#4c57a4","#5e63ab","#7272b6","#8a8ac4","#a3a3d2","#bdbddf","#d7d7ec","#f1f1f8","#fdeeee","#fad5d5","#f8bcbd","#f5a3a4","#f28b8d","#f07578","#ee6062","#ec4c4f","#ea3b3d","#e8282b"]}}
   }
  }
 ]
},
{
 "width":16,"height":492,
 "view":{"stroke":null},
 "layer":[
  {
   "data":{"name":"bins"},
   "mark":{"type":"rect","stroke":"#444","strokeWidth":0.8},
   "encoding":{
    "y":{"field":"lo","type":"quantitative","scale":{"domain":[-2.29,2.43],"nice":false,"zero":false},
     "axis":{"orient":"right","values":[-2,-1,0,1,2],"labelExpr":"'' + datum.value","ticks":false,"grid":false,"domain":false,"labelAlign":"left","labelPadding":16,"title":"[°C]","titleAngle":0,"titleX":20,"titleY":9,"titleAlign":"center","titleBaseline":"alphabetic"}},
    "y2":{"field":"hi"},
    "color":{"field":"v","type":"quantitative","legend":null,
     "scale":{"type":"threshold","domain":[-1.8,-1.6,-1.4,-1.2,-1,-0.8,-0.6,-0.4,-0.2,0,0.2,0.4,0.6,0.8,1,1.2,1.4,1.6,1.8],
      "range":["#3a4a9a","#42509f","#4c57a4","#5e63ab","#7272b6","#8a8ac4","#a3a3d2","#bdbddf","#d7d7ec","#f1f1f8","#fdeeee","#fad5d5","#f8bcbd","#f5a3a4","#f28b8d","#f07578","#ee6062","#ec4c4f","#ea3b3d","#e8282b"]}}
   }
  },
  {
   "data":{"name":"ends"},
   "transform":[{"filter":"datum.end == 'top'"}],
   "mark":{"type":"point","filled":true,"opacity":1,"shape":"M-1,0L0,-2.8L1,0Z","size":225},
   "encoding":{"y":{"field":"y","type":"quantitative"},
    "color":{"field":"c","type":"quantitative","legend":null,
     "scale":{"type":"threshold","domain":[-1.8,-1.6,-1.4,-1.2,-1,-0.8,-0.6,-0.4,-0.2,0,0.2,0.4,0.6,0.8,1,1.2,1.4,1.6,1.8],
      "range":["#3a4a9a","#42509f","#4c57a4","#5e63ab","#7272b6","#8a8ac4","#a3a3d2","#bdbddf","#d7d7ec","#f1f1f8","#fdeeee","#fad5d5","#f8bcbd","#f5a3a4","#f28b8d","#f07578","#ee6062","#ec4c4f","#ea3b3d","#e8282b"]}}}
  },
  {
   "data":{"name":"ends"},
   "transform":[{"filter":"datum.end == 'bottom'"}],
   "mark":{"type":"point","filled":true,"opacity":1,"shape":"M-1,0L0,2.8L1,0Z","size":225},
   "encoding":{"y":{"field":"y","type":"quantitative"},
    "color":{"field":"c","type":"quantitative","legend":null,
     "scale":{"type":"threshold","domain":[-1.8,-1.6,-1.4,-1.2,-1,-0.8,-0.6,-0.4,-0.2,0,0.2,0.4,0.6,0.8,1,1.2,1.4,1.6,1.8],
      "range":["#3a4a9a","#42509f","#4c57a4","#5e63ab","#7272b6","#8a8ac4","#a3a3d2","#bdbddf","#d7d7ec","#f1f1f8","#fdeeee","#fad5d5","#f8bcbd","#f5a3a4","#f28b8d","#f07578","#ee6062","#ec4c4f","#ea3b3d","#e8282b"]}}}
  }
 ]
}
]
}
